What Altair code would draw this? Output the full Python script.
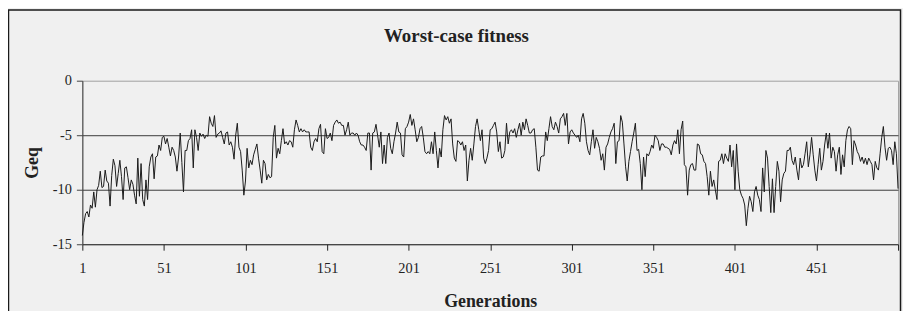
import altair as alt
import pandas as pd

title_text = "Worst-case fitness"
x_title = "Generations"
y_title = "Geq"
x_tick_values = [1, 51, 101, 151, 201, 251, 301, 351, 401, 451, 501]
y_tick_values = [0, -5, -10, -15]

geq_001_100 = [
    -14.2, -13.0, -12.2, -12.0, -12.5, -11.4, -11.7, -10.2, -11.6, -10.0,
    -9.6, -8.3, -9.8, -9.7, -8.2, -9.2, -9.4, -11.5, -8.7, -7.2,
    -7.8, -9.7, -8.5, -7.3, -8.8, -10.9, -8.0, -7.9, -8.9, -10.0,
    -9.1, -9.5, -10.5, -11.3, -7.1, -10.6, -7.6, -10.9, -11.5, -9.1,
    -10.9, -7.9, -7.0, -6.7, -9.0, -7.0, -6.9, -5.9, -6.4, -5.2,
    -5.1, -5.8, -5.3, -6.1, -6.9, -6.1, -6.4, -7.0, -8.3, -7.0,
    -4.8, -7.5, -10.2, -6.4, -6.4, -5.5, -5.3, -4.5, -8.0, -4.5,
    -5.2, -6.4, -4.8, -5.1, -4.9, -5.3, -5.0, -5.1, -3.3, -3.9,
    -4.2, -3.2, -5.2, -4.9, -4.8, -4.6, -5.2, -5.8, -4.8, -4.7,
    -5.9, -5.6, -6.1, -7.2, -5.0, -3.9, -6.1, -6.5, -8.2, -10.5,
]
geq_101_200 = [
    -9.2, -6.2, -8.0, -7.3, -7.7, -6.8, -6.3, -5.8, -7.1, -8.2,
    -9.4, -7.3, -7.6, -9.1, -8.6, -8.9, -8.8, -5.2, -4.1, -7.1,
    -6.2, -6.7, -5.5, -4.4, -5.8, -5.6, -5.9, -5.5, -5.6, -6.1,
    -4.5, -3.6, -4.1, -4.7, -4.4, -4.7, -4.5, -4.7, -4.7, -4.7,
    -6.1, -6.4, -5.6, -5.3, -5.6, -4.4, -4.0, -6.5, -6.7, -4.4,
    -5.3, -5.2, -4.8, -5.5, -4.1, -3.8, -3.6, -3.9, -3.8, -4.1,
    -4.1, -5.0, -4.5, -3.8, -5.0, -4.8, -4.8, -5.0, -4.8, -5.0,
    -5.6, -5.9, -5.9, -6.1, -6.4, -4.8, -4.8, -8.2, -4.8, -4.7,
    -4.0, -5.0, -6.1, -4.7, -7.6, -5.9, -7.6, -5.2, -4.8, -6.2,
    -6.7, -5.6, -4.8, -3.8, -4.7, -4.8, -6.8, -7.0, -4.4, -4.2,
]
geq_201_300 = [
    -3.8, -3.1, -4.1, -3.5, -4.5, -5.6, -5.2, -4.4, -4.2, -5.2,
    -6.5, -6.7, -6.5, -6.7, -5.6, -6.7, -4.7, -6.4, -8.0, -6.2,
    -7.0, -4.5, -3.2, -3.6, -3.3, -3.9, -3.5, -5.8, -7.1, -7.4,
    -5.5, -5.6, -5.9, -5.6, -6.4, -5.9, -9.2, -7.3, -6.2, -7.3,
    -5.8, -4.2, -3.5, -4.5, -5.5, -4.5, -7.1, -7.6, -7.1, -6.4,
    -4.5, -4.4, -4.1, -3.8, -4.7, -6.5, -5.6, -7.1, -7.0, -6.4,
    -3.9, -5.8, -4.7, -4.5, -4.8, -4.4, -5.2, -4.5, -3.9, -5.0,
    -3.8, -4.5, -3.5, -4.1, -4.8, -4.8, -4.5, -4.4, -6.1, -8.2,
    -8.3, -7.0, -6.9, -6.9, -4.7, -5.5, -4.4, -3.3, -4.2, -4.5,
    -3.8, -4.2, -4.8, -3.5, -3.3, -3.0, -4.1, -3.0, -5.8, -4.7,
]
geq_301_400 = [
    -4.5, -4.8, -5.0, -5.2, -5.0, -5.6, -3.5, -3.0, -3.9, -5.6,
    -6.4, -6.8, -5.6, -4.5, -6.2, -5.2, -5.6, -6.2, -7.3, -6.7,
    -8.2, -6.1, -5.8, -5.2, -4.7, -4.4, -3.9, -7.6, -5.6, -5.5,
    -3.2, -3.8, -5.8, -7.9, -9.2, -7.4, -6.5, -5.6, -4.8, -3.9,
    -6.4, -6.3, -7.6, -10.0, -7.0, -8.8, -6.7, -6.9, -6.5, -5.9,
    -6.2, -5.0, -5.2, -5.5, -6.4, -5.8, -5.8, -6.1, -6.1, -6.2,
    -6.3, -6.8, -5.9, -5.5, -5.8, -4.5, -6.7, -4.5, -3.7, -7.7,
    -7.9, -10.5, -8.2, -7.7, -7.6, -8.2, -8.2, -5.8, -5.9, -6.7,
    -6.8, -7.4, -7.6, -8.8, -10.5, -8.3, -9.7, -9.1, -10.0, -10.9,
    -7.4, -7.3, -6.7, -7.6, -6.7, -7.1, -7.4, -5.9, -7.9, -6.4,
]
geq_401_501 = [
    -10.0, -5.8, -8.3, -10.0, -10.5, -10.8, -11.4, -13.3, -11.7, -10.6,
    -11.1, -12.0, -10.2, -9.7, -10.5, -10.9, -12.0, -8.0, -10.2, -6.4,
    -7.1, -9.7, -12.1, -9.0, -12.1, -9.7, -7.4, -8.3, -11.1, -9.1,
    -8.5, -8.3, -6.4, -6.4, -6.1, -7.3, -7.7, -7.0, -8.2, -9.1,
    -7.1, -8.0, -7.7, -6.7, -5.6, -7.9, -6.8, -5.2, -6.8, -8.2,
    -9.2, -7.7, -6.2, -8.2, -7.4, -5.9, -4.8, -6.2, -4.8, -7.1,
    -6.1, -6.5, -8.3, -6.8, -6.1, -8.6, -6.8, -7.9, -5.5, -4.5,
    -4.2, -4.4, -7.7, -5.5, -5.9, -6.5, -6.8, -7.4, -7.0, -7.6,
    -7.1, -7.7, -7.1, -7.4, -7.7, -9.1, -7.4, -8.0, -8.2, -6.7,
    -5.2, -4.2, -6.1, -7.3, -6.2, -6.1, -6.4, -7.7, -5.6, -6.7,
    -9.9,
]

geq = geq_001_100 + geq_101_200 + geq_201_300 + geq_301_400 + geq_401_501
generations = list(range(1, len(geq) + 1))
df = pd.DataFrame({"Generation": generations, "Geq": geq})

FONT = "Liberation Serif"
INK = "#222222"
W, H = 823, 165

frame = alt.Chart(pd.DataFrame({"k": [0]})).mark_rect(
    fillOpacity=0, stroke="#1a1a1a", strokeWidth=1.5
).encode(
    x=alt.value(-74.5), x2=alt.value(825.5), y=alt.value(-71.3), y2=alt.value(260)
)

line = alt.Chart(df).mark_line(color="#1a1a1a", strokeWidth=1).encode(
    x=alt.X(
        "Generation:Q",
        scale=alt.Scale(domain=[1, 501], nice=False, zero=False),
        axis=alt.Axis(
            values=x_tick_values,
            title=x_title,
            labelExpr="datum.value == 501 ? '' : datum.label",
            grid=False,
            domainColor=INK,
            tickColor=INK,
            tickSize=6,
            labelFont=FONT,
            labelFontSize=14.5,
            labelColor=INK,
            labelBaseline="alphabetic",
            labelPadding=23,
            labelFlush=False,
            labelOverlap=False,
            titleFont=FONT,
            titleFontSize=18,
            titleFontWeight="bold",
            titleColor=INK,
            titleX=411.5,
            titleY=63,
            titleBaseline="alphabetic",
            titleAlign="center",
        ),
    ),
    y=alt.Y(
        "Geq:Q",
        scale=alt.Scale(domain=[-15, 0], nice=False, zero=False),
        axis=alt.Axis(
            values=y_tick_values,
            title=y_title,
            labelExpr="(datum.value < 0 ? '-' : '') + abs(datum.value)",
            grid=True,
            gridColor="#3a3a3a",
            gridOpacity={"condition": {"test": "datum.value === 0 || datum.value === -15", "value": 0}, "value": 1},
            gridWidth=1,
            domainColor="#444444",
            tickColor="#444444",
            tickSize=6,
            labelFont=FONT,
            labelFontSize=14.5,
            labelColor=INK,
            labelPadding=5,
            labelFlush=False,
            labelOverlap=False,
            titleFont=FONT,
            titleFontSize=18,
            titleFontWeight="bold",
            titleColor=INK,
            titleAngle=270,
            titleX=-45.5,
            titleY=82.5,
            titleBaseline="alphabetic",
            titleAlign="center",
        ),
    ),
)

chart = alt.layer(frame, line).properties(
    width=W,
    height=H,
    title=alt.TitleParams(
        title_text,
        font=FONT,
        fontSize=19,
        fontWeight="bold",
        color=INK,
        anchor="middle",
        frame="group",
        baseline="alphabetic",
        offset=0,
        dx=-34,
        dy=52,
    ),
    autosize=alt.AutoSizeParams(type="none"),
    padding={"left": 75, "top": 72, "right": 5, "bottom": 66},
    background="#f0f0f0",
).configure_view(stroke="#a0a0a0", strokeWidth=1)

chart.save("out.html", embed_options={"renderer": "svg", "actions": False})
